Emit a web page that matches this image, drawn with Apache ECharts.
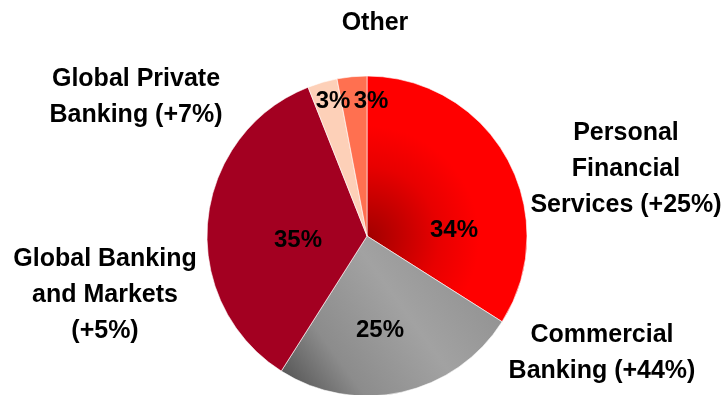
<!DOCTYPE html>
<html>
<head>
<meta charset="utf-8">
<script src="https://cdn.jsdelivr.net/npm/echarts@6/dist/echarts.min.js"></script>
<style>
  html, body { margin: 0; padding: 0; background: #fff; }
  #chart { width: 727px; height: 395px; }
</style>
</head>
<body>
<div id="chart"></div>
<script>
// segments, clockwise from 12 o'clock
const segments = ['Personal Financial Services', 'Commercial Banking', 'Global Banking and Markets', 'Global Private Banking', 'Other']
const shares = [34, 25, 35, 3, 3]
const growth = ['+25%', '+44%', '+5%', '+7%', '']
// how the outside captions are broken into lines
const captionLines = [
  ['Personal', 'Financial', 'Services (+25%)'],
  ['Commercial', 'Banking (+44%)'],
  ['Global Banking', 'and Markets', '(+5%)'],
  ['Global Private', 'Banking (+7%)'],
  ['Other']
]

const FONT = '"Liberation Sans", Arial, sans-serif'
const center = [367, 236]
const radius = 160

// where excel put the labels
const pctPos = [[454, 230], [380, 330], [298, 240], [333, 101], [371, 101]]
const captionPos = [[626, 169], [602, 353], [105, 295], [136, 97], [375, 23]]

const colors = [
  new echarts.graphic.RadialGradient(0, 0.66, 1, [
    { offset: 0, color: '#a00000' },
    { offset: 0.45, color: '#e80000' },
    { offset: 0.7, color: '#ff0000' },
    { offset: 1, color: '#ff0000' }
  ]),
  new echarts.graphic.LinearGradient(1, 0, 0, 1, [
    { offset: 0, color: '#8a8a8a' },
    { offset: 0.45, color: '#a2a2a2' },
    { offset: 0.75, color: '#8c8c8c' },
    { offset: 1, color: '#4a4a4a' }
  ]),
  '#a30021',
  '#fdd0b8',
  '#ff7050'
]

const chart = echarts.init(document.getElementById('chart'))

const option = {
  backgroundColor: '#fff',
  animation: false,
  series: [{
    type: 'pie',
    center: center,
    radius: radius,
    startAngle: 90,
    clockwise: true,
    avoidLabelOverlap: false,
    data: segments.map((name, i) => ({
      name: name,
      value: shares[i],
      itemStyle: { color: colors[i] }
    })),
    itemStyle: { borderColor: '#ffffff', borderWidth: 0.6 },
    label: {
      show: true,
      position: 'inside',
      formatter: '{c}%',
      fontFamily: FONT,
      fontWeight: 'bold',
      fontSize: 24,
      color: '#000'
    },
    labelLine: { show: false },
    labelLayout: (p) => ({ x: pctPos[p.dataIndex][0], y: pctPos[p.dataIndex][1], align: 'center', verticalAlign: 'middle' })
  }],
  graphic: captionLines.map((lines, i) => ({
    type: 'text',
    x: captionPos[i][0],
    y: captionPos[i][1],
    style: {
      text: lines.join('\n'),
      font: 'bold 25px ' + FONT,
      fill: '#000',
      align: 'center',
      verticalAlign: 'middle',
      lineHeight: 36
    }
  }))
}

chart.setOption(option)
</script>
</body>
</html>
